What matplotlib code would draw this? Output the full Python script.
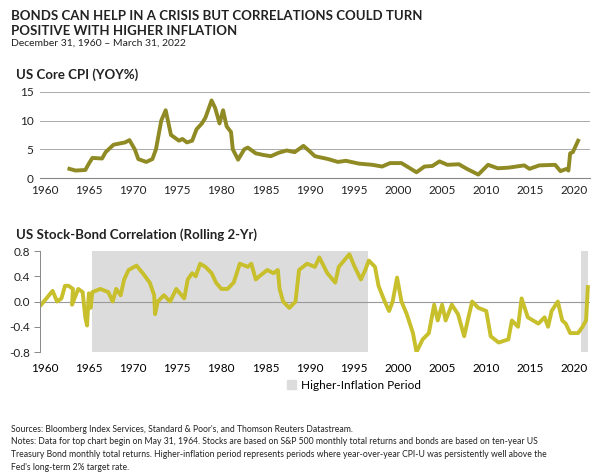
import matplotlib
matplotlib.use("Agg")
import matplotlib.pyplot as plt
import matplotlib.patches as mpatches

plt.rcParams['font.family'] = ['Lato', 'DejaVu Sans']

cpi_year = [1962.8,1963.5,1964.6,1965.0,1965.4,1966.5,1966.9,1967.8,1969.1,1969.6,1970.2,1970.6,1971.5,1972.2,1972.6,1973.2,1973.7,1974.3,1975.2,1975.6,1976.1,1976.7,1977.2,1977.8,1978.2,1978.9,1979.3,1979.8,1980.2,1980.6,1981.1,1981.3,1981.9,1982.6,1983.0,1983.9,1984.8,1985.6,1986.5,1987.4,1988.3,1989.3,1989.9,1990.6,1992.1,1993.2,1994.1,1995.6,1997.1,1998.2,1999.1,2000.4,2002.1,2003.0,2003.9,2004.7,2005.6,2006.9,2007.8,2009.1,2010.2,2011.3,2012.5,2014.3,2014.9,2016.0,2017.8,2018.4,2019.1,2019.3,2019.5,2019.8,2020.4]
cpi_val = [1.6,1.3,1.4,2.5,3.5,3.4,4.5,5.8,6.2,6.6,5.0,3.3,2.8,3.3,5.0,10.0,11.8,7.5,6.5,6.8,6.2,6.5,8.5,9.5,10.5,13.5,12.2,9.5,11.8,9.0,8.0,5.0,3.2,5.0,5.3,4.3,4.0,3.8,4.4,4.8,4.5,5.6,4.8,3.8,3.3,2.8,3.0,2.5,2.3,2.0,2.6,2.6,1.0,2.0,2.1,2.9,2.3,2.4,1.6,0.6,2.3,1.7,1.8,2.2,1.6,2.2,2.3,1.2,1.6,1.3,4.3,4.5,6.5]

corr_year = [1959.6,1960.2,1960.9,1961.4,1961.9,1962.3,1962.7,1963.2,1963.1,1963.8,1964.3,1964.6,1964.8,1965.0,1965.2,1965.4,1966.3,1967.2,1967.7,1968.1,1968.6,1969.0,1969.5,1970.4,1971.1,1971.9,1972.4,1972.5,1972.8,1973.5,1974.2,1974.9,1975.5,1975.8,1976.2,1976.7,1977.1,1977.6,1978.2,1978.9,1979.4,1980.0,1980.7,1981.4,1982.1,1983.0,1983.4,1983.9,1984.3,1985.2,1985.9,1986.4,1986.6,1987.0,1987.7,1988.4,1988.8,1989.7,1990.6,1991.1,1992.0,1992.9,1993.3,1994.5,1995.1,1995.8,1996.3,1996.7,1997.4,1997.8,1998.5,1999.0,1999.4,1999.9,2000.4,2001.0,2001.7,2002.1,2002.8,2003.5,2004.1,2004.5,2005.0,2005.4,2006.1,2006.8,2007.5,2007.9,2008.4,2009.1,2010.0,2010.5,2011.4,2012.5,2012.9,2013.6,2014.0,2014.7,2015.9,2016.6,2017.0,2017.4,2018.1,2018.6,2019.0,2019.5,2020.4,2020.9,2021.3,2021.5]
corr_val = [-0.05,0.05,0.17,0.0,0.05,0.25,0.25,0.2,-0.05,0.2,0.15,-0.25,-0.38,0.13,-0.1,0.15,0.2,0.15,0.0,0.2,0.1,0.35,0.5,0.57,0.45,0.3,0.1,-0.2,0.0,0.1,0.0,0.2,0.1,0.05,0.35,0.45,0.4,0.6,0.55,0.45,0.3,0.2,0.2,0.3,0.6,0.55,0.6,0.35,0.4,0.5,0.45,0.5,0.2,0.0,-0.1,0.0,0.5,0.6,0.55,0.7,0.45,0.3,0.55,0.75,0.55,0.35,0.5,0.65,0.55,0.25,0.0,-0.15,0.0,0.38,0.0,-0.2,-0.5,-0.8,-0.6,-0.5,-0.05,-0.3,-0.05,-0.3,-0.05,-0.2,-0.55,-0.3,0.0,-0.1,-0.15,-0.55,-0.65,-0.6,-0.3,-0.4,0.05,-0.25,-0.35,-0.25,-0.4,-0.15,0.0,-0.3,-0.35,-0.5,-0.5,-0.4,-0.3,0.23]

shade_start = [1965.4, 2020.7]
shade_end = [1996.6, 2021.5]

xticks = list(range(1960, 2021, 5))
xlim = (1959.5, 2021.8)

fig = plt.figure(figsize=(6.1, 4.76), dpi=100)
fig.text(0.018, 0.978, "BONDS CAN HELP IN A CRISIS BUT CORRELATIONS COULD TURN\nPOSITIVE WITH HIGHER INFLATION",
         fontsize=9.5, fontweight='bold', va='top', linespacing=1.3, color='#222222')
fig.text(0.018, 0.918, "December 31, 1960 – March 31, 2022", fontsize=7.5, va='top', color='#222222')

ax1 = fig.add_axes([0.066, 0.626, 0.902, 0.181])
ax1.text(-0.045, 1.13, "US Core CPI (YOY%)", transform=ax1.transAxes, fontsize=9.5, fontweight='bold', va='bottom', color='#222222')
ax1.plot(cpi_year, cpi_val, color='#8f8a24', lw=2.8)
ax1.set_xlim(*xlim); ax1.set_ylim(0, 15)
ax1.set_yticks([0, 5, 10, 15]); ax1.set_xticks(xticks)
ax1.grid(axis='y', color='#aaaaaa', lw=0.7); ax1.set_axisbelow(True)
for s in ['top', 'right', 'left']:
    ax1.spines[s].set_visible(False)
ax1.spines['bottom'].set_color('#888888')
ax1.tick_params(length=0, labelsize=8.5, colors='#222222', pad=5)

ax2 = fig.add_axes([0.066, 0.2605, 0.902, 0.212])
ax2.text(-0.045, 1.1, "US Stock-Bond Correlation (Rolling 2-Yr)", transform=ax2.transAxes, fontsize=9.5, fontweight='bold', va='bottom', color='#222222')
for a, b in zip(shade_start, shade_end):
    ax2.axvspan(a, b, color='#dcdcdd', lw=0)
ax2.axhline(0, color='#999999', lw=0.8)
ax2.plot(corr_year, corr_val, color='#c8bf2c', lw=2.8)
ax2.set_xlim(*xlim); ax2.set_ylim(-0.8, 0.8)
ax2.set_yticks([-0.8, -0.4, 0.0, 0.4, 0.8]); ax2.set_xticks(xticks)
ax2.set_yticklabels(["-0.8", "-0.4", "0.0", "0.4", "0.8"])
for s in ['top', 'right', 'bottom']:
    ax2.spines[s].set_visible(False)
ax2.spines['left'].set_color('#888888'); ax2.spines['left'].set_linewidth(0.7)
ax2.tick_params(axis='y', length=4, width=0.7, color='#888888', labelsize=8.5, colors='#222222')
ax2.tick_params(axis='x', length=0, labelsize=8.5, pad=8)
ax2.legend(handles=[mpatches.Patch(color='#dcdcdd', label='Higher-Inflation Period')],
           loc='upper center', bbox_to_anchor=(0.57, -0.17), frameon=False, fontsize=8.5,
           handlelength=0.8, handleheight=0.8, handletextpad=0.4)

fig.text(0.018, 0.108, "Sources: Bloomberg Index Services, Standard & Poor's, and Thomson Reuters Datastream.\n"
         "Notes: Data for top chart begin on May 31, 1964. Stocks are based on S&P 500 monthly total returns and bonds are based on ten-year US\n"
         "Treasury Bond monthly total returns. Higher-inflation period represents periods where year-over-year CPI-U was persistently well above the\n"
         "Fed's long-term 2% target rate.", fontsize=6.2, va='top', linespacing=1.55, color='#222222')

fig.savefig("out.png", dpi=100)
